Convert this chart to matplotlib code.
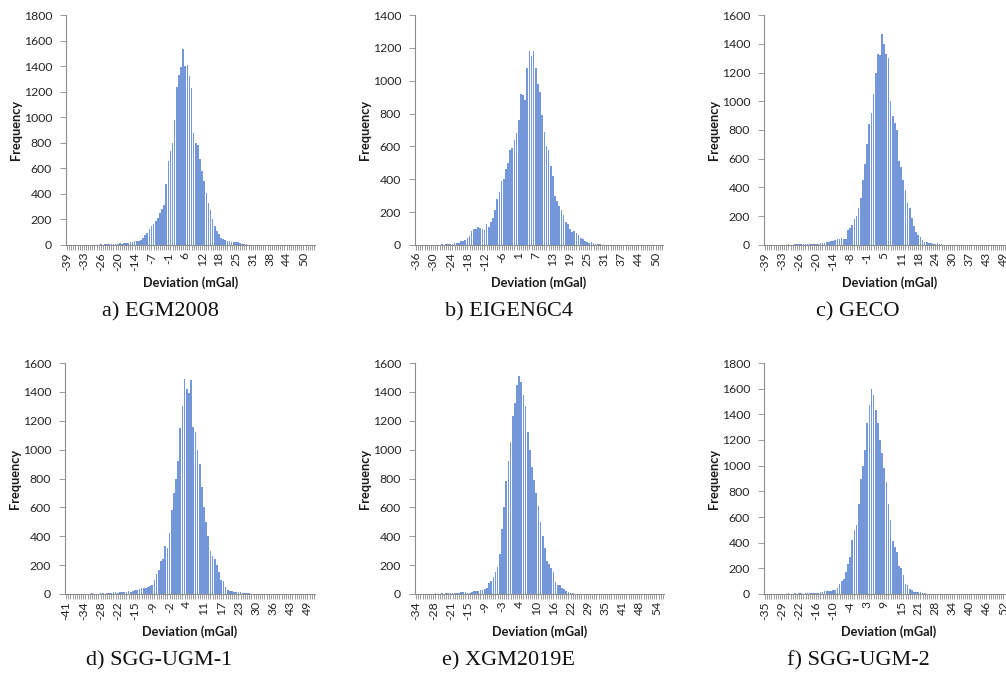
import matplotlib.pyplot as plt


# frequency counts per deviation bin
egm2008 = [
    0, 0, 1, 0, 0, 1, 0, 2, 1, 1,
    3, 1, 0, 2, 3, 2, 5, 3, 4, 6,
    5, 8, 7, 9, 10, 12, 10, 14, 13, 15,
    20, 22, 28, 30, 32, 38, 55, 75, 96, 122,
    150, 165, 190, 213, 252, 280, 310, 480, 660, 733,
    798, 975, 1235, 1330, 1390, 1532, 1397, 1410, 1324, 1228,
    880, 800, 780, 676, 578, 500, 410, 330, 270, 200,
    150, 110, 83, 57, 48, 42, 35, 30, 26, 25,
    22, 20, 18, 10, 7, 5, 3, 2, 1, 0,
    1, 0, 0, 1, 0, 0, 0, 1, 0, 0,
    0, 0, 0, 0, 0, 0, 0, 0, 0, 0,
    0, 0, 0, 0, 0, 0, 0, 0,
]

eigen6c4 = [
    0, 0, 1, 0, 2, 1, 0, 2, 1, 1,
    2, 3, 4, 3, 5, 6, 5, 8, 10, 12,
    15, 22, 25, 30, 40, 55, 85, 95, 100, 110,
    105, 100, 90, 125, 110, 140, 165, 210, 280, 320,
    390, 400, 460, 500, 580, 590, 640, 680, 760, 920,
    910, 880, 1080, 1180, 1150, 1180, 1080, 980, 930, 790,
    690, 600, 580, 480, 420, 300, 270, 240, 215, 180,
    140, 130, 95, 80, 85, 72, 60, 45, 35, 25,
    20, 15, 18, 10, 8, 5, 4, 3, 2, 1,
    1, 0, 1, 0, 0, 0, 1, 0, 0, 0,
    0, 0, 0, 0, 0, 0, 0, 0, 0, 0,
    0, 0, 0, 0, 0, 0,
]

geco = [
    0, 0, 1, 0, 2, 1, 3, 2, 1, 3,
    2, 4, 3, 2, 5, 4, 5, 4, 6, 5,
    7, 6, 8, 9, 10, 10, 12, 14, 15, 20,
    22, 25, 30, 35, 40, 42, 48, 45, 45, 105,
    120, 140, 180, 200, 260, 330, 450, 560, 700, 840,
    920, 1050, 1200, 1330, 1320, 1470, 1400, 1330, 1300, 1000,
    900, 850, 800, 583, 540, 450, 380, 290, 260, 190,
    130, 90, 70, 55, 35, 22, 18, 15, 12, 10,
    10, 12, 9, 6, 3, 2, 1, 1, 0, 1,
    0, 0, 0, 0, 0, 0, 0, 0, 0, 0,
    0, 0, 0, 0, 0, 0, 0, 0, 0, 0,
    0, 0, 0, 0, 0, 0, 0, 0,
]

sgg_ugm_1 = [
    0, 1, 0, 0, 2, 1, 3, 2, 1, 2,
    3, 2, 4, 3, 2, 3, 5, 4, 3, 6,
    8, 10, 15, 12, 10, 12, 15, 14, 15, 18,
    15, 20, 25, 30, 35, 45, 42, 40, 50, 55,
    60, 97, 140, 165, 230, 240, 330, 320, 420, 580,
    700, 800, 920, 1150, 1300, 1490, 1420, 1390, 1480, 1160,
    1120, 1000, 900, 740, 600, 500, 400, 300, 260, 240,
    200, 150, 100, 90, 50, 30, 22, 18, 15, 15,
    15, 12, 10, 8, 6, 5, 3, 2, 1, 1,
    0, 1, 0, 0, 0, 0, 0, 0, 0, 0,
    0, 0, 0, 0, 0, 0, 0, 0, 0, 0,
    0, 0, 0, 0, 0, 0,
]

xgm2019e = [
    0, 0, 1, 0, 1, 2, 0, 3, 2, 5,
    3, 2, 4, 3, 5, 4, 6, 5, 8, 6,
    10, 12, 15, 12, 10, 10, 15, 20, 18, 22,
    25, 30, 35, 45, 75, 90, 120, 150, 190, 280,
    450, 600, 780, 920, 1050, 1230, 1320, 1450, 1510, 1470,
    1380, 1300, 1120, 1000, 880, 790, 700, 610, 500, 400,
    320, 230, 210, 180, 150, 80, 65, 60, 45, 35,
    20, 15, 10, 8, 3, 2, 1, 1, 0, 1,
    0, 0, 0, 0, 0, 0, 0, 0, 0, 0,
    0, 0, 0, 0, 0, 0, 0, 0, 0, 0,
    0, 0, 0, 0, 0, 0, 0, 0, 0, 0,
    0, 0, 0, 0, 0, 0,
]

sgg_ugm_2 = [
    0, 0, 1, 0, 0, 2, 1, 0, 3, 1,
    2, 5, 3, 2, 4, 3, 5, 4, 3, 6,
    5, 8, 7, 10, 8, 10, 15, 18, 20, 25,
    25, 25, 28, 30, 50, 80, 100, 115, 170, 230,
    290, 420, 500, 540, 700, 900, 1000, 1120, 1330, 1470,
    1600, 1550, 1430, 1330, 1200, 1100, 980, 870, 700, 580,
    410, 370, 330, 220, 200, 150, 80, 70, 40, 30,
    18, 15, 15, 12, 8, 5, 3, 2, 1, 1,
    0, 0, 0, 0, 0, 0, 0, 0, 0, 0,
    0, 0, 0, 0, 0, 0, 0, 0, 0, 0,
    0, 0, 0, 0, 0, 0, 0, 0, 0, 0,
    0, 0, 0, 0, 0, 0, 0,
]

# category labels shown every 8th bin
labels_a = [-39, -33, -26, -20, -14, -7, -1, 6, 12, 18, 25, 31, 38, 44, 50]
labels_b = [-36, -30, -24, -18, -12, -6, 1, 7, 13, 19, 25, 31, 37, 44, 50]
labels_c = [-39, -33, -26, -20, -14, -8, -1, 5, 11, 18, 24, 30, 37, 43, 49]
labels_d = [-41, -34, -28, -22, -15, -9, -2, 4, 11, 17, 23, 30, 36, 43, 49]
labels_e = [-34, -28, -21, -15, -9, -3, 4, 10, 16, 22, 29, 35, 41, 48, 54]
labels_f = [-35, -29, -22, -16, -10, -4, 3, 9, 15, 21, 28, 34, 40, 46, 52]

captions = ["a) EGM2008", "b) EIGEN6C4", "c) GECO",
            "d) SGG-UGM-1", "e) XGM2019E", "f) SGG-UGM-2"]

ymax = [1800, 1400, 1600, 1600, 1600, 1800]

panels = [
    (egm2008, labels_a),
    (eigen6c4, labels_b),
    (geco, labels_c),
    (sgg_ugm_1, labels_d),
    (xgm2019e, labels_e),
    (sgg_ugm_2, labels_f),
]

# axes boxes in pixels: left, top, right, bottom
boxes = [
    (66, 15, 315, 245),
    (415, 15, 663, 245),
    (764, 15, 1015, 245),
    (65, 363, 315, 594),
    (415, 363, 664, 594),
    (764, 363, 1013, 594),
]

W, H = 1006, 674
FONT = "Lato"
GRAY = "#8c8c8c"
BAR = "#7497da"

fig = plt.figure(figsize=(W / 100, H / 100), dpi=100)

for k in range(6):

    counts, labels = panels[k]
    left, top, right, bottom = boxes[k]

    ax = fig.add_axes([
        left / W,
        1 - bottom / H,
        (right - left) / W,
        (bottom - top) / H
    ])

    n = len(counts)

    ax.bar(
        range(n),
        counts,
        width=0.78,
        color=BAR,
        linewidth=0
    )

    ax.set_xlim(-0.5, n - 0.5)
    ax.set_ylim(0, ymax[k])
    ax.set_yticks(range(0, ymax[k] + 1, 200))

    ax.set_xticks(range(0, 8 * len(labels), 8))
    ax.set_xticklabels([str(v) for v in labels], rotation=90)
    ax.set_xticks(range(n), minor=True)

    for s in ["top", "right"]:
        ax.spines[s].set_visible(False)
    for s in ["left", "bottom"]:
        ax.spines[s].set_color(GRAY)
        ax.spines[s].set_linewidth(0.8)

    ax.tick_params(axis="x", which="both", length=3.5, width=0.6,
                   color=GRAY, pad=1.5)
    ax.tick_params(axis="y", length=4, width=0.6, color=GRAY, pad=6)
    ax.tick_params(labelsize=8.8, labelcolor="#262626")

    for t in ax.get_xticklabels() + ax.get_yticklabels():
        t.set_family(FONT)

    ax.text(
        -50 / (right - left), 0.5, "Frequency",
        transform=ax.transAxes, rotation=90,
        ha="center", va="center",
        fontsize=9.2, fontweight="bold", family=FONT, color="#1a1a1a"
    )

    ax.text(
        0.5, -38 / (bottom - top), "Deviation (mGal)",
        transform=ax.transAxes,
        ha="center", va="center",
        fontsize=9.2, fontweight="bold", family=FONT, color="#1a1a1a"
    )

    fig.text(
        (left + 124 - 30) / W,
        1 - (bottom + 67) / H,
        captions[k],
        ha="center", va="center",
        fontsize=16, family="Liberation Serif", color="#111111"
    )

fig.savefig("out.png", dpi=100)
